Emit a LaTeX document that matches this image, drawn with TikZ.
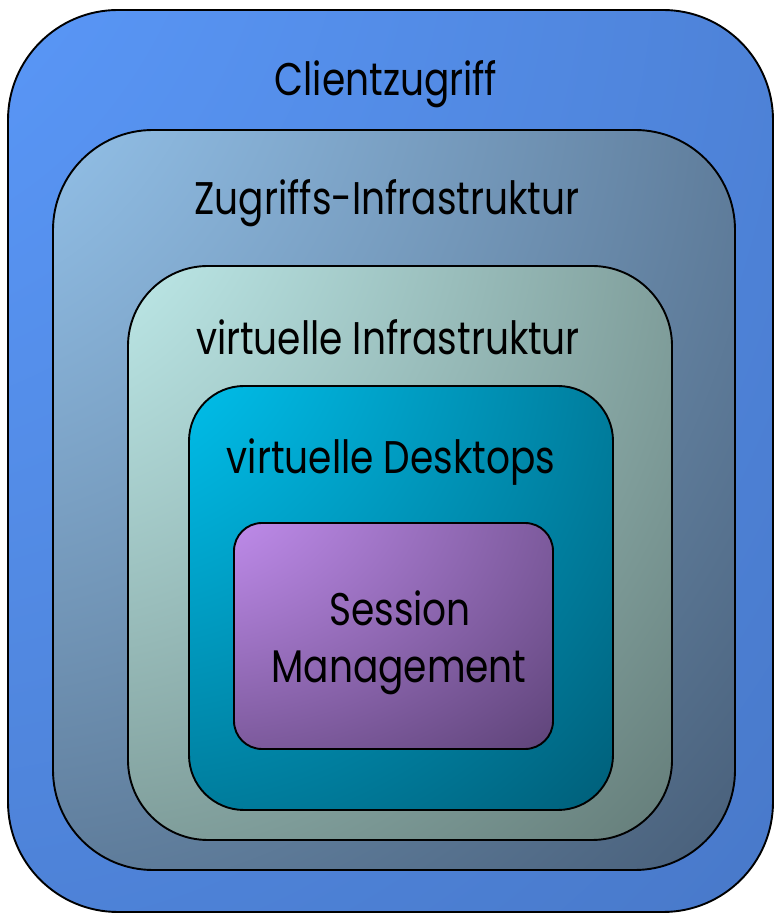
\documentclass[tikz,border=0pt]{standalone}
\usepackage{fontspec}
\setmainfont{Poppins}
\usetikzlibrary{positioning}
\colorlet{c1}{white}\colorlet{c2}{black}
\pgfdeclareradialshading[c1,c2]{glowA}{\pgfpoint{-45bp}{45bp}}{color(0bp)=(c1); color(10bp)=(c1); color(72bp)=(c2); color(160bp)=(c2)}
\newcommand{\tallsc}[1]{\scalebox{1}[1.22]{#1}}
\begin{document}
\begin{tikzpicture}[x=1pt,y=1pt,
  layer/.style={draw=black, line width=1.9pt, shading=glowA},
  lbl/.style={font=\fontsize{37.5}{44}\selectfont, text=black, inner sep=0pt, anchor=base}]
\useasboundingbox (0,0) rectangle (774,915);
\fill[white] (0,0) rectangle (774,915);
% box 1
\colorlet{c1}{rgb,255:red,92;green,156;blue,255}\colorlet{c2}{rgb,255:red,72;green,120;blue,200}
\draw[layer, rounded corners=110pt] (8,3) rectangle (773,905);
\node[lbl] (t1) at (386,819) {\tallsc{Clientzugriff}};
% box 2
\colorlet{c1}{rgb,255:red,160;green,210;blue,252}\colorlet{c2}{rgb,255:red,70;green,92;blue,118}
\draw[layer, rounded corners=100pt] (53,45) rectangle (735,785);
\node[lbl] (t2) at (387,700) {\tallsc{Zugriffs-Infrastruktur}};
% box 3
\colorlet{c1}{rgb,255:red,205;green,252;blue,252}\colorlet{c2}{rgb,255:red,98;green,122;blue,118}
\draw[layer, rounded corners=80pt] (128,75) rectangle (672,649);
\node[lbl] (t3) at (388,560) {\tallsc{virtuelle Infrastruktur}};
% box 4
\colorlet{c1}{rgb,255:red,0;green,208;blue,255}\colorlet{c2}{rgb,255:red,0;green,92;blue,118}
\draw[layer, rounded corners=55pt] (189,105) rectangle (613,529);
\node[lbl] (t4) at (391,441) {\tallsc{virtuelle Desktops}};
% box 5
\colorlet{c1}{rgb,255:red,208;green,152;blue,255}\colorlet{c2}{rgb,255:red,92;green,66;blue,118}
\draw[layer, rounded corners=28pt] (234,166) rectangle (553,392);
\node[lbl] (t5a) at (400,289) {\tallsc{Session}};
\node[lbl] (t5b) at (399,232) {\tallsc{Management}};
\end{tikzpicture}
\end{document}
